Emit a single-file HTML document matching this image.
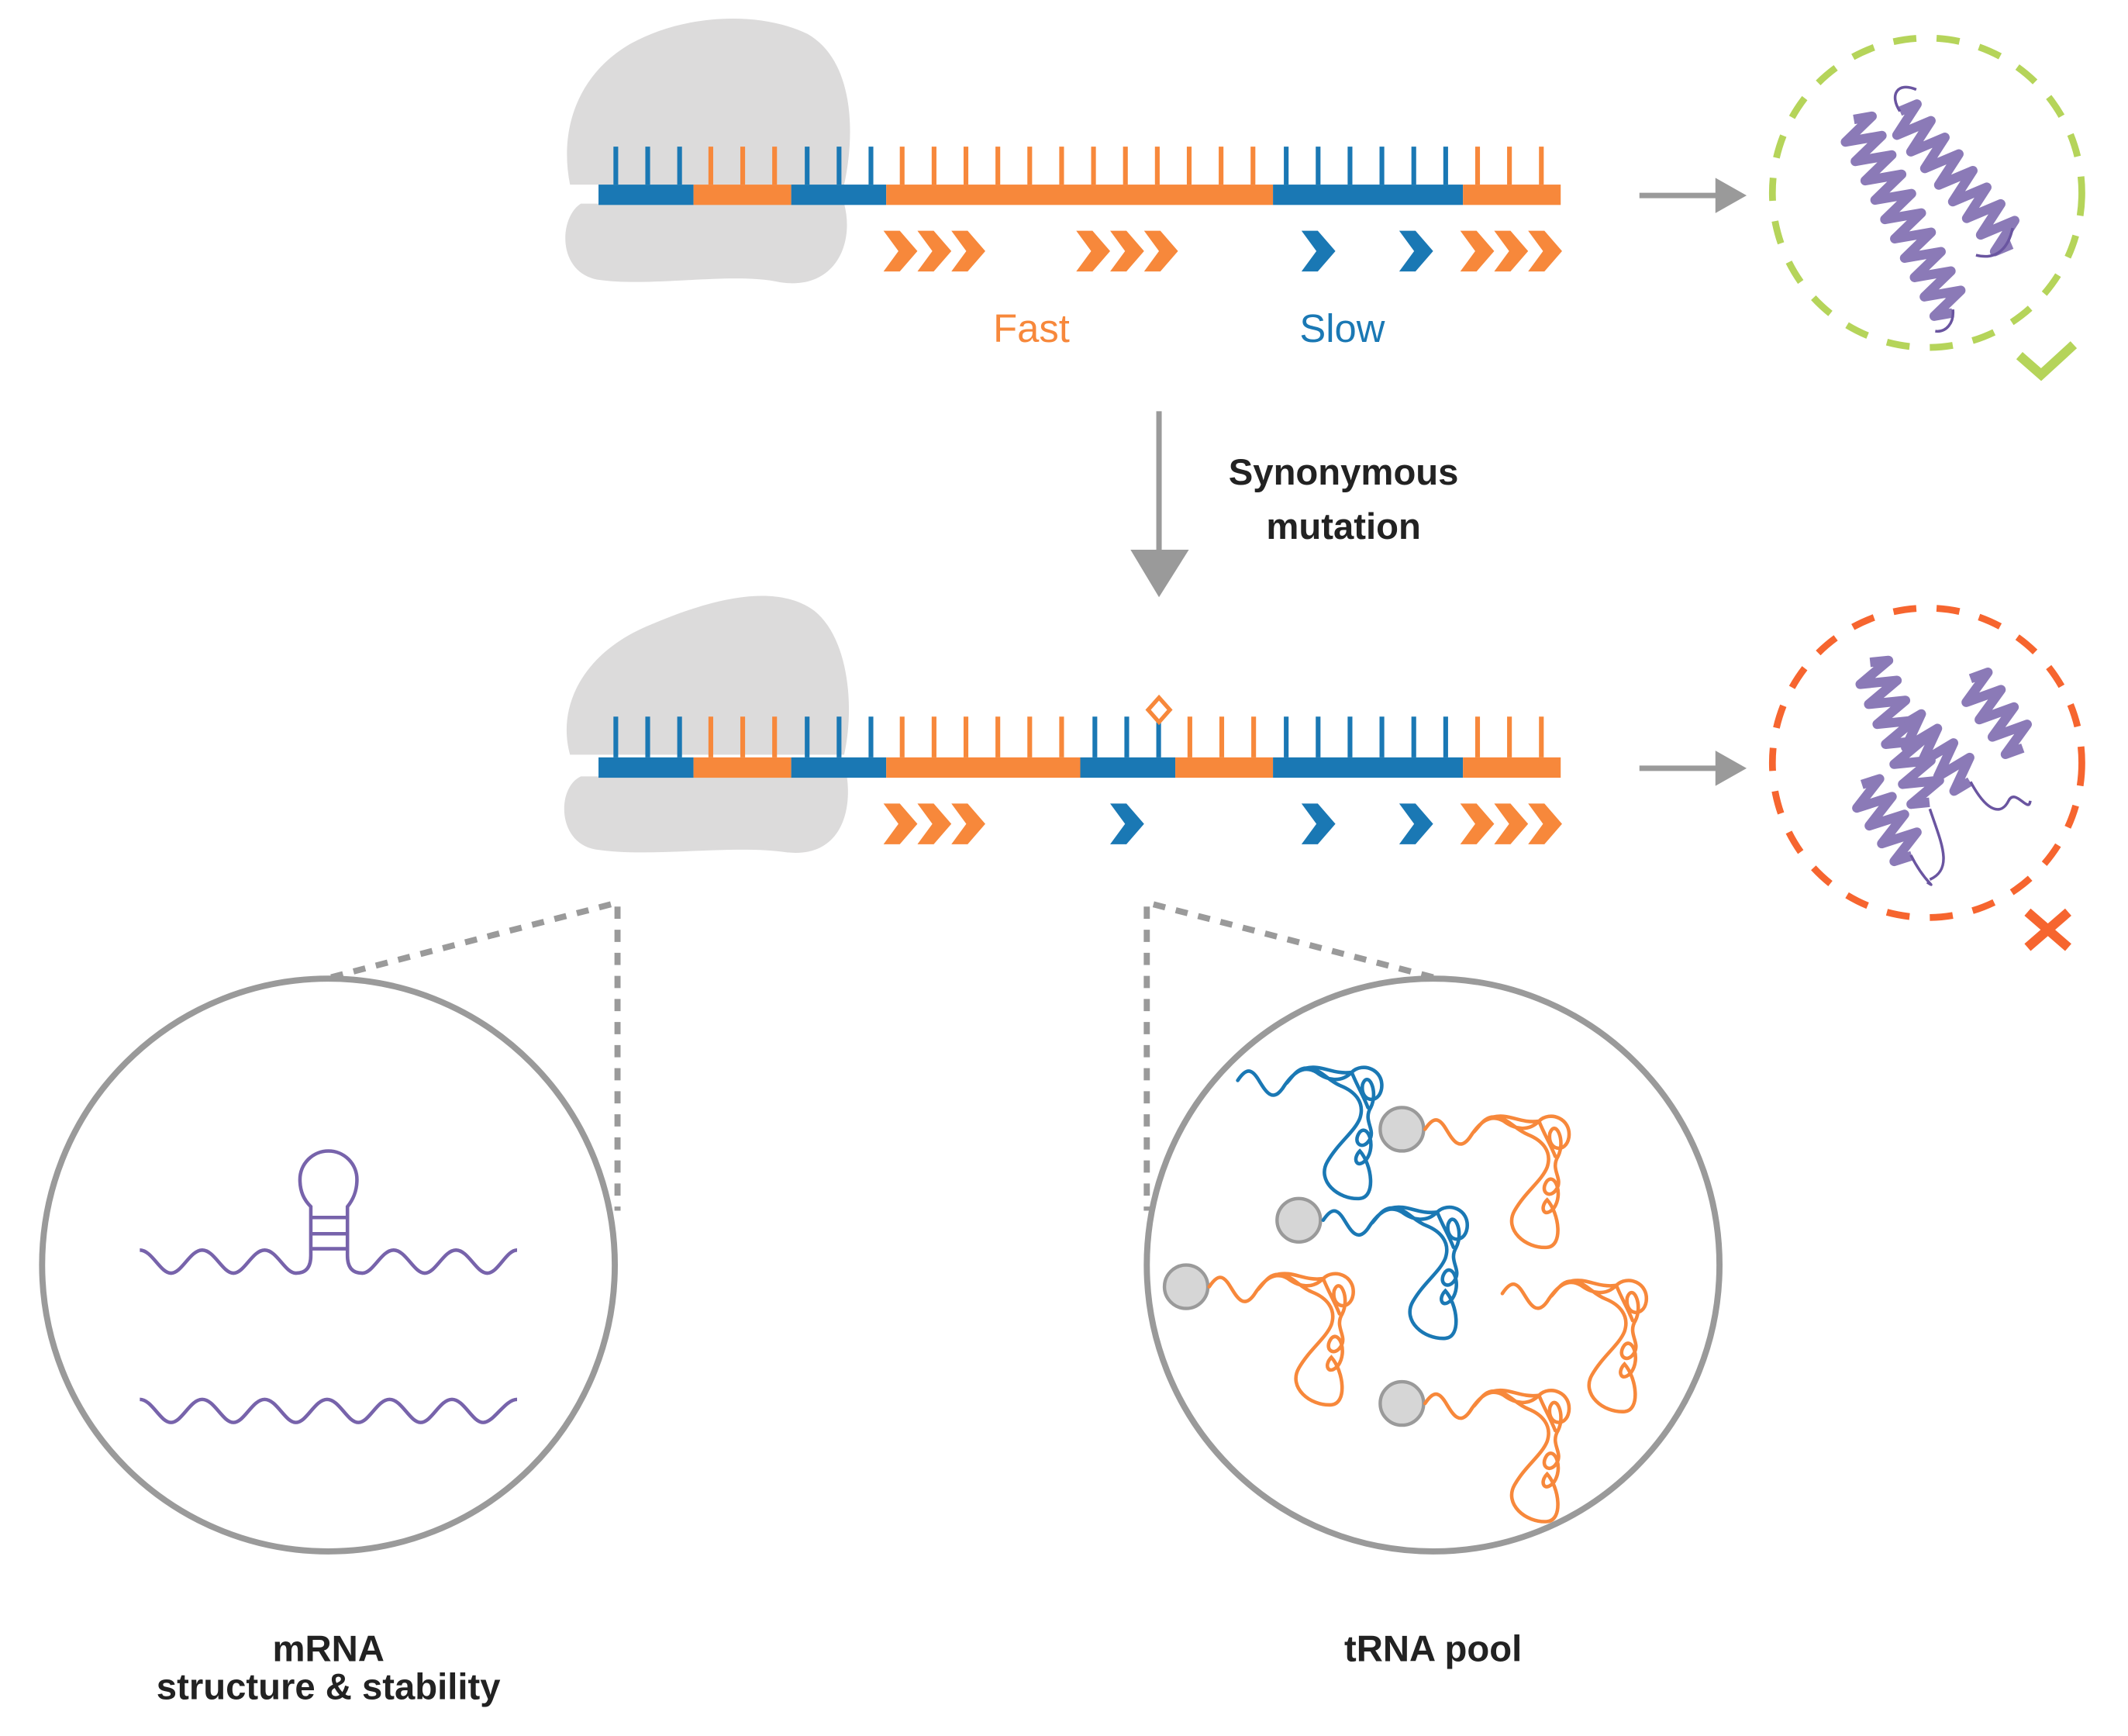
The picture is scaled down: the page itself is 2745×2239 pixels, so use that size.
<!DOCTYPE html>
<html><head><meta charset="utf-8">
<style>
html,body{margin:0;padding:0;background:#fff;}
svg{display:block;}
</style></head>
<body>
<svg xmlns="http://www.w3.org/2000/svg" xmlns:xlink="http://www.w3.org/1999/xlink" width="2745" height="2239" viewBox="0 0 1568 1279">
<defs>
  <polygon id="chev" points="0,0 12,0 25,15 12,30 0,30 11,15"/>
  <g id="tri">
    <use xlink:href="#chev" x="0"/><use xlink:href="#chev" x="25"/><use xlink:href="#chev" x="50"/>
  </g>
  <path id="trna" fill="none" stroke-width="2.6" stroke-linecap="round" d="M0,0 C6,-9 10,-9 15,-1 S25,17 33,6 C40,-5 48,-12 58,-6 C66,0 76,2 84,-6 C92,-14 108,-8 106,6 C104,18 90,16 92,3 C96,-8 104,8 98,20 C92,30 102,36 97,44 C92,52 84,46 90,38 C96,32 102,48 95,58 C88,66 84,58 90,52 C99,62 102,86 90,87 C74,88 58,74 66,60 C74,46 86,38 90,28 C94,16 86,8 76,4 C66,0 62,-8 52,-9 C44,-10 40,-2 36,2 M50,-9 C62,-12 70,-4 84,-6 M84,-6 C88,4 92,10 96,20"/>
  <path id="hxA" fill="none" stroke-width="7" stroke-linejoin="round" d="M0,0 l4,-13 l8,26 l8,-26 l8,26 l8,-26 l8,26 l8,-26 l8,26 l8,-26 l8,26 l8,-26 l8,26 l8,-26 l8,26 l8,-26 l8,26 l8,-26 l8,26 l8,-26 l8,26 l4,-13"/>
  <path id="hxB" fill="none" stroke-width="7" stroke-linejoin="round" d="M0,0 l4,-13 l8,26 l8,-26 l8,26 l8,-26 l8,26 l8,-26 l8,26 l8,-26 l8,26 l8,-26 l8,26 l8,-26 l8,26 l8,-26 l8,26 l4,-13"/>
  <path id="hxC" fill="none" stroke-width="7" stroke-linejoin="round" d="M0,0 l4,-13 l8,26 l8,-26 l8,26 l8,-26 l8,26 l8,-26 l8,26 l8,-26 l8,26 l8,-26 l8,26 l8,-26 l8,26 l4,-13"/>
  <path id="hxD" fill="none" stroke-width="7" stroke-linejoin="round" d="M0,0 l4,-13 l8,26 l8,-26 l8,26 l8,-26 l8,26 l8,-26 l8,26 l4,-13"/>
</defs>

<!-- ===== Top ribosome ===== -->
<path fill="#dcdbdb" d="M420,136 C412,96 425,55 465,32 C505,10 560,8 595,25 C630,45 630,100 622,136 Z M428,150 C412,160 410,200 440,206 C480,212 540,200 575,208 C615,214 630,180 622,150 Z"/>
<g>
  <rect x="441" y="136" width="70" height="15" fill="#1a78b4"/>
  <rect x="511" y="136" width="72" height="15" fill="#f7883b"/>
  <rect x="583" y="136" width="70" height="15" fill="#1a78b4"/>
  <rect x="653" y="136" width="285" height="15" fill="#f7883b"/>
  <rect x="938" y="136" width="140" height="15" fill="#1a78b4"/>
  <rect x="1078" y="136" width="72" height="15" fill="#f7883b"/>
  <g stroke-width="28" stroke-dasharray="3.5 20" fill="none">
    <line x1="452" y1="122" x2="505" y2="122" stroke="#1a78b4"/>
    <line x1="522" y1="122" x2="575" y2="122" stroke="#f7883b"/>
    <line x1="593" y1="122" x2="646" y2="122" stroke="#1a78b4"/>
    <line x1="663" y1="122" x2="927" y2="122" stroke="#f7883b"/>
    <line x1="946" y1="122" x2="1070" y2="122" stroke="#1a78b4"/>
    <line x1="1087" y1="122" x2="1140" y2="122" stroke="#f7883b"/>
  </g>
</g>
<g fill="#f7883b"><use xlink:href="#tri" x="651" y="170"/><use xlink:href="#tri" x="793" y="170"/><use xlink:href="#tri" x="1076" y="170"/></g>
<g fill="#1a78b4"><use xlink:href="#chev" x="959" y="170"/><use xlink:href="#chev" x="1031" y="170"/></g>
<text x="760" y="252" font-family="Liberation Sans, sans-serif" font-size="29" fill="#f7883b" text-anchor="middle">Fast</text>
<text x="989" y="252" font-family="Liberation Sans, sans-serif" font-size="29" fill="#1a78b4" text-anchor="middle">Slow</text>

<line x1="1208" y1="144" x2="1268" y2="144" stroke="#9a9a9a" stroke-width="4"/>
<polygon points="1264,131 1287,144 1264,157" fill="#9a9a9a"/>
<circle cx="1420" cy="142" r="114" fill="none" stroke="#b5d45a" stroke-width="5" stroke-dasharray="17 15"/>
<g stroke="#7763ab" opacity="0.85">
  <use xlink:href="#hxA" transform="translate(1366,88) rotate(63)"/>
  <use xlink:href="#hxB" transform="translate(1400,82) rotate(50)"/>
</g>
<path d="M1439,228 C1440,238 1434,245 1426,244 M1483,168 C1480,182 1472,192 1456,188 M1400,82 C1392,70 1398,60 1412,66" fill="none" stroke="#6a55a0" stroke-width="2"/>
<polyline points="1488,262 1504,276 1528,254" fill="none" stroke="#b5d45a" stroke-width="7"/>

<line x1="854" y1="303" x2="854" y2="410" stroke="#9a9a9a" stroke-width="4"/>
<polygon points="833,405 876,405 854,440" fill="#9a9a9a"/>
<text x="990" y="357" font-family="Liberation Sans, sans-serif" font-weight="bold" font-size="27" fill="#222" text-anchor="middle">Synonymous</text>
<text x="990" y="397" font-family="Liberation Sans, sans-serif" font-weight="bold" font-size="27" fill="#222" text-anchor="middle">mutation</text>

<!-- ===== Bottom ribosome ===== -->
<path fill="#dcdbdb" d="M420,556 C410,520 430,480 480,460 C520,443 570,428 600,450 C625,470 630,520 622,556 Z M428,572 C410,580 410,622 440,626 C480,632 540,622 580,628 C618,632 628,600 624,572 Z"/>
<g>
  <rect x="441" y="558" width="70" height="15" fill="#1a78b4"/>
  <rect x="511" y="558" width="72" height="15" fill="#f7883b"/>
  <rect x="583" y="558" width="70" height="15" fill="#1a78b4"/>
  <rect x="653" y="558" width="143" height="15" fill="#f7883b"/>
  <rect x="796" y="558" width="70" height="15" fill="#1a78b4"/>
  <rect x="866" y="558" width="72" height="15" fill="#f7883b"/>
  <rect x="938" y="558" width="140" height="15" fill="#1a78b4"/>
  <rect x="1078" y="558" width="72" height="15" fill="#f7883b"/>
  <g stroke-width="30" stroke-dasharray="3.5 20" fill="none">
    <line x1="452" y1="543" x2="505" y2="543" stroke="#1a78b4"/>
    <line x1="522" y1="543" x2="575" y2="543" stroke="#f7883b"/>
    <line x1="593" y1="543" x2="646" y2="543" stroke="#1a78b4"/>
    <line x1="663" y1="543" x2="786" y2="543" stroke="#f7883b"/>
    <line x1="805" y1="543" x2="858" y2="543" stroke="#1a78b4"/>
    <line x1="875" y1="543" x2="928" y2="543" stroke="#f7883b"/>
    <line x1="946" y1="543" x2="1070" y2="543" stroke="#1a78b4"/>
    <line x1="1087" y1="543" x2="1140" y2="543" stroke="#f7883b"/>
  </g>
  <polygon points="854,514 862,523 854,532 846,523" fill="#fff" stroke="#f7883b" stroke-width="3"/>
</g>
<g fill="#f7883b"><use xlink:href="#tri" x="651" y="592"/><use xlink:href="#tri" x="1076" y="592"/></g>
<g fill="#1a78b4"><use xlink:href="#chev" x="818" y="592"/><use xlink:href="#chev" x="959" y="592"/><use xlink:href="#chev" x="1031" y="592"/></g>

<line x1="1208" y1="566" x2="1268" y2="566" stroke="#9a9a9a" stroke-width="4"/>
<polygon points="1264,553 1287,566 1264,579" fill="#9a9a9a"/>
<circle cx="1420" cy="562" r="114" fill="none" stroke="#f6652f" stroke-width="5" stroke-dasharray="17 15"/>
<g stroke="#7763ab" opacity="0.85">
  <use xlink:href="#hxC" transform="translate(1378,488) rotate(67)"/>
  <use xlink:href="#hxD" transform="translate(1372,578) rotate(55)"/>
  <use xlink:href="#hxD" transform="translate(1452,500) rotate(53)"/>
  <use xlink:href="#hxD" transform="translate(1404,533) rotate(42)"/>
</g>
<path d="M1408,630 C1418,650 1428,655 1420,650 M1422,596 C1430,620 1440,640 1422,648 M1452,576 C1465,600 1475,600 1480,590 C1485,580 1495,600 1496,590" fill="none" stroke="#6a55a0" stroke-width="2"/>
<g stroke="#f6652f" stroke-width="7"><line x1="1494" y1="672" x2="1524" y2="698"/><line x1="1524" y1="672" x2="1494" y2="698"/></g>

<g stroke="#9a9a9a" stroke-width="4.5" stroke-dasharray="9 8" fill="none">
  <polyline points="244,720 455,665 455,892"/>
  <polyline points="1056,720 845,665 845,892"/>
</g>
<circle cx="242" cy="932" r="211" fill="#fff" stroke="#9a9a9a" stroke-width="4.5"/>
<circle cx="1056" cy="932" r="211" fill="#fff" stroke="#9a9a9a" stroke-width="4.5"/>

<g fill="none" stroke="#7763ab" stroke-width="2.6">
  <path d="M103,921 C112,921 118,938 126,938 C134,938 140,921 149,921 C158,921 164,938 172,938 C180,938 186,921 195,921 C204,921 210,938 218,938 C226,938 229,933 229,925 L229,889 C224,884 221,878 221,869 A21,21 0 1 1 263,869 C263,878 260,884 256,889 L256,925 C256,933 259,938 267,938 C275,938 281,921 290,921 C299,921 305,938 313,938 C321,938 327,921 336,921 C345,921 351,938 359,938 C367,938 373,921 381,921"/>
  <line x1="229" y1="897" x2="256" y2="897"/><line x1="229" y1="909" x2="256" y2="909"/><line x1="229" y1="920" x2="256" y2="920"/>
  <path d="M103,1031 C112,1031 118,1048 126,1048 C134,1048 140,1031 149,1031 C158,1031 164,1048 172,1048 C180,1048 186,1031 195,1031 C204,1031 210,1048 218,1048 C226,1048 232,1031 241,1031 C250,1031 256,1048 264,1048 C272,1048 278,1031 287,1031 C296,1031 302,1048 310,1048 C318,1048 324,1031 333,1031 C342,1031 348,1048 356,1048 C364,1048 372,1031 381,1031"/>
</g>

<g fill="#d6d6d6" stroke="#9a9a9a" stroke-width="2.5">
  <circle cx="1033" cy="832" r="16"/>
  <circle cx="957" cy="899" r="16"/>
  <circle cx="874" cy="948" r="16"/>
  <circle cx="1033" cy="1034" r="16"/>
</g>
<g stroke="#1a78b4"><use xlink:href="#trna" x="912" y="796"/><use xlink:href="#trna" x="975" y="899"/></g>
<g stroke="#f7883b">
  <use xlink:href="#trna" x="1050" y="832"/>
  <use xlink:href="#trna" x="891" y="948"/>
  <use xlink:href="#trna" x="1107" y="953"/>
  <use xlink:href="#trna" x="1050" y="1034"/>
</g>

<g font-family="Liberation Sans, sans-serif" font-weight="bold" font-size="27" fill="#222" text-anchor="middle">
  <text x="242" y="1224">mRNA</text>
  <text x="242" y="1252">structure &amp; stability</text>
  <text x="1056" y="1224">tRNA pool</text>
</g>
</svg>
</body></html>
